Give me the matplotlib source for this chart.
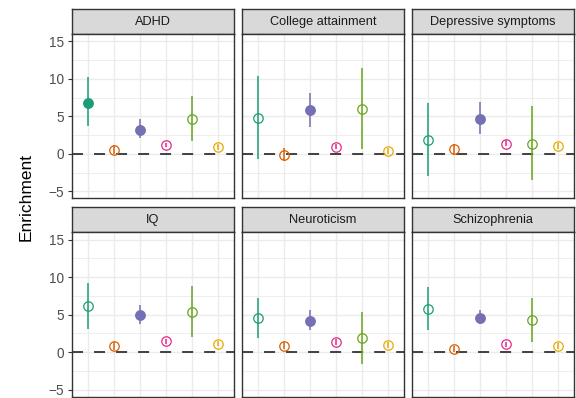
import matplotlib.pyplot as plt

plt.rcParams['font.family'] = ['Liberation Sans', 'DejaVu Sans']

traits = ["ADHD", "College attainment", "Depressive symptoms",
          "IQ", "Neuroticism", "Schizophrenia"]
colors = ["#1B9E77", "#D95F02", "#7570B3", "#E7298A", "#66A61E", "#E6AB02"]
groups = [1, 2, 3, 4, 5, 6]

# enrichment estimate with lower / upper bound, one list per trait
adhd_est = [6.85, 0.58, 3.25, 1.20, 4.67, 0.93]
adhd_lo = [3.70, 0.00, 2.10, 0.90, 1.78, 0.55]
adhd_hi = [10.20, 1.20, 4.70, 1.50, 7.70, 1.35]
adhd_sig = [1, 0, 1, 0, 0, 0]

college_est = [4.80, -0.18, 5.79, 0.98, 6.05, 0.36]
college_lo = [-0.67, -0.93, 3.60, 0.60, 0.67, -0.05]
college_hi = [10.40, 0.80, 8.10, 1.35, 11.50, 0.80]
college_sig = [0, 0, 1, 0, 0, 0]

depress_est = [1.87, 0.62, 4.72, 1.38, 1.29, 1.07]
depress_lo = [-2.98, -0.10, 2.67, 1.00, -3.50, 0.65]
depress_hi = [6.85, 1.38, 6.90, 1.80, 6.36, 1.50]
depress_sig = [0, 0, 1, 0, 0, 0]

iq_est = [6.10, 0.80, 4.98, 1.42, 5.34, 1.11]
iq_lo = [3.07, 0.30, 3.74, 1.10, 2.00, 0.80]
iq_hi = [9.20, 1.30, 6.23, 1.80, 8.80, 1.50]
iq_sig = [0, 0, 1, 0, 0, 0]

neuro_est = [4.54, 0.85, 4.18, 1.33, 1.82, 0.98]
neuro_lo = [1.91, 0.40, 2.94, 1.00, -1.60, 0.60]
neuro_hi = [7.25, 1.30, 5.60, 1.70, 5.28, 1.40]
neuro_sig = [0, 0, 1, 0, 0, 0]

scz_est = [5.79, 0.40, 4.58, 1.07, 4.23, 0.76]
scz_lo = [2.98, 0.05, 3.74, 0.70, 1.33, 0.40]
scz_hi = [8.63, 0.75, 5.60, 1.40, 7.16, 1.20]
scz_sig = [0, 0, 1, 0, 0, 0]

panels = [
    (adhd_est, adhd_lo, adhd_hi, adhd_sig),
    (college_est, college_lo, college_hi, college_sig),
    (depress_est, depress_lo, depress_hi, depress_sig),
    (iq_est, iq_lo, iq_hi, iq_sig),
    (neuro_est, neuro_lo, neuro_hi, neuro_sig),
    (scz_est, scz_lo, scz_hi, scz_sig),
]

W, H = 576, 398
fig = plt.figure(figsize=(W / 100, H / 100), dpi=100)


def px_axes(x0, y0, x1, y1):
    return fig.add_axes([x0 / W, 1 - y1 / H, (x1 - x0) / W, (y1 - y0) / H])


col_x = [(72.3, 233.5), (242.3, 404.0), (412.3, 574.0)]
row_y = [(9.0, 34.0, 198.3), (207.0, 232.0, 396.5)]

for i, (trait, (est, lo, hi, sig)) in enumerate(zip(traits, panels)):
    r, c = divmod(i, 3)
    x0, x1 = col_x[c]
    s0, s1, p1 = row_y[r]

    # grey facet strip
    strip = px_axes(x0, s0, x1, s1)
    strip.set_facecolor("#d9d9d9")
    strip.set_xticks([])
    strip.set_yticks([])
    for sp in strip.spines.values():
        sp.set_color("#333333")
        sp.set_linewidth(1.0)
    strip.text(0.5, 0.47, trait, ha="center", va="center", fontsize=9.2,
               color="#1a1a1a", transform=strip.transAxes)

    ax = px_axes(x0, s1, x1, p1)
    ax.set_xlim(0.4, 6.6)
    ax.set_ylim(-5.93, 16)
    ax.set_xticks(groups)
    ax.set_xticklabels([])
    ax.set_yticks([-5, 0, 5, 10, 15])
    ax.set_yticks([-2.5, 2.5, 7.5, 12.5], minor=True)
    ax.grid(True, which="major", color="#ebebeb", linewidth=1.0)
    ax.grid(True, which="minor", axis="y", color="#ebebeb", linewidth=0.6)
    ax.set_axisbelow(True)
    ax.tick_params(axis="x", length=0)
    ax.tick_params(axis="y", which="minor", length=0)
    if c == 0:
        ax.tick_params(axis="y", length=2.9, width=0.8, color="#333333",
                       labelsize=9.8, labelcolor="#4d4d4d", pad=3.3)
    else:
        ax.tick_params(axis="y", length=0, labelleft=False)
    for sp in ax.spines.values():
        sp.set_color("#333333")
        sp.set_linewidth(1.0)

    zero = ax.axhline(0, color="#333333", linewidth=1.3, zorder=2)
    zero.set_dashes((6.1, 6.1))

    for g, e, l, h, s, col in zip(groups, est, lo, hi, sig, colors):
        ax.vlines(g, l, h, color=col, linewidth=1.1, zorder=3)
        if s:
            ax.plot(g, e, "o", color=col, markersize=6.8, zorder=4)
        else:
            ax.plot(g, e, "o", markerfacecolor="none", markeredgecolor=col,
                    markeredgewidth=0.9, markersize=6.8, zorder=4)

fig.text(26 / W, 1 - 197 / H, "Enrichment", rotation=90, ha="center",
         va="center", fontsize=12.5, color="black")

fig.savefig("out.png", dpi=100)
